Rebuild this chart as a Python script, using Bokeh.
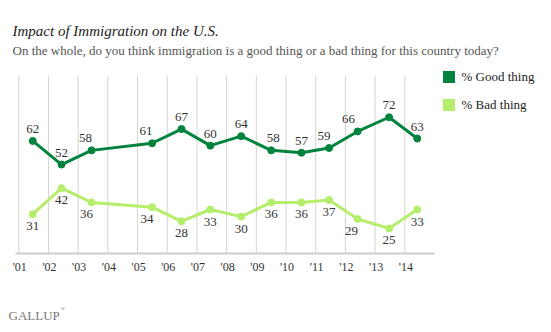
from bokeh.plotting import figure
from bokeh.models import Label, Legend, LegendItem, ColumnDataSource
from bokeh.core.properties import value
from bokeh.embed import file_html
from bokeh.resources import INLINE

# ---- data ----
years = [2001.47, 2002.44, 2003.45, 2005.49, 2006.48, 2007.45, 2008.49,
         2009.50, 2010.52, 2011.45, 2012.41, 2013.47, 2014.42]
good = [62, 52, 58, 61, 67, 60, 64, 58, 57, 59, 66, 72, 63]
bad = [31, 42, 36, 34, 28, 33, 30, 36, 36, 37, 29, 25, 33]
tick_years = list(range(2001, 2015))
tick_labels = ["'01", "'02", "'03", "'04", "'05", "'06", "'07",
               "'08", "'09", "'10", "'11", "'12", "'13", "'14"]
series_names = ["% Good thing", "% Bad thing"]

# ---- style ----
GOOD = "#00843d"
BAD = "#b5ee6b"
FONT = "Liberation Serif"
good_dx = [0, 0, -6, -6, 0, 0, 0, 2, 0, -5, -9, 0, 0]
bad_dx = [0, 0, -5, -5, 0, 0, 0, 0, 0, 0, -6, 0, 0]

W, H = 551, 332
# plot area (pixels) and its value extent
PL, PR, PT, PB = 15, 434, 75, 253
XA, XB = 2000.89, 2015.0
YA, YB = 14.4, 89.65
kx = (PR - PL) / (XB - XA)
ky = (PB - PT) / (YB - YA)
X0, X1 = XA - PL / kx, XA + (W - PL) / kx
Y0, Y1 = YA - (H - PB) / ky, YA + PB / ky


def sx(px):
    return X0 + px / kx


def sy(py):
    return Y0 + (H - py) / ky


p = figure(width=W, height=H, x_range=(X0, X1), y_range=(Y0, Y1),
           output_backend="svg", toolbar_location=None,
           min_border=0)
p.outline_line_color = None
p.axis.visible = False
p.grid.visible = False

# grid lines and axis line
p.segment(x0=tick_years, y0=[YA] * len(tick_years), x1=tick_years,
          y1=[YB] * len(tick_years), line_color="#d4d4d4", line_width=1)
p.segment(x0=[XA], y0=[YA], x1=[XB], y1=[YA], line_color="#cccccc",
          line_width=2)
p.text(x=tick_years, y=[YA] * len(tick_years), text=tick_labels,
       x_offset=1, y_offset=13, text_align="center", text_baseline="middle",
       text_font=value(FONT), text_font_size="12px", text_color="#333333")

src = ColumnDataSource(dict(x=years, good=good, bad=bad,
                            gt=[str(v) for v in good], bt=[str(v) for v in bad],
                            gdx=good_dx, bdx=bad_dx))

p.line("x", "bad", source=src, line_color=BAD, line_width=3)
p.scatter("x", "bad", source=src, size=7, color=BAD)
p.line("x", "good", source=src, line_color=GOOD, line_width=3)
p.scatter("x", "good", source=src, size=7, color=GOOD)

p.text("x", "good", text="gt", source=src, x_offset="gdx", y_offset=-12,
       text_align="center", text_baseline="middle", text_font=value(FONT),
       text_font_size="13px", text_color="#333333")
p.text("x", "bad", text="bt", source=src, x_offset="bdx", y_offset=12,
       text_align="center", text_baseline="middle", text_font=value(FONT),
       text_font_size="13px", text_color="#333333")

# legend (swatch-only renderers with no visible data)
nan = float("nan")
rg = p.quad(left=[nan], right=[nan], top=[nan], bottom=[nan],
            fill_color=GOOD, line_color=None)
rb = p.quad(left=[nan], right=[nan], top=[nan], bottom=[nan],
            fill_color=BAD, line_color=None)
legend = Legend(items=[LegendItem(label=series_names[0], renderers=[rg]),
                       LegendItem(label=series_names[1], renderers=[rb])],
                location=(440.5, H - 112.8), glyph_width=15, glyph_height=15,
                label_height=15, spacing=12, padding=0, margin=0,
                label_standoff=6, border_line_color=None,
                background_fill_alpha=0, label_text_font=FONT,
                label_text_font_size="13px", label_text_color="#222222")
p.add_layout(legend)

# titles
p.add_layout(Label(x=sx(12), y=sy(30), text="Impact of Immigration on the U.S.",
                   text_font=FONT, text_font_style="italic",
                   text_font_size="15px", text_color="#222222",
                   text_baseline="alphabetic"))
p.add_layout(Label(x=sx(12), y=sy(50),
                   text="On the whole, do you think immigration is a good thing or a bad thing for this country today?",
                   text_font=FONT, text_font_size="13px", text_color="#555555",
                   text_baseline="alphabetic"))
p.add_layout(Label(x=sx(8), y=sy(315), text="GALLUP", text_font=FONT,
                   text_font_size="13px", text_color="#777777",
                   text_baseline="alphabetic"))
p.add_layout(Label(x=sx(60), y=sy(308), text="®", text_font=FONT,
                   text_font_size="6px", text_color="#777777",
                   text_baseline="alphabetic"))

open("out.html", "w").write(file_html(p, INLINE))
